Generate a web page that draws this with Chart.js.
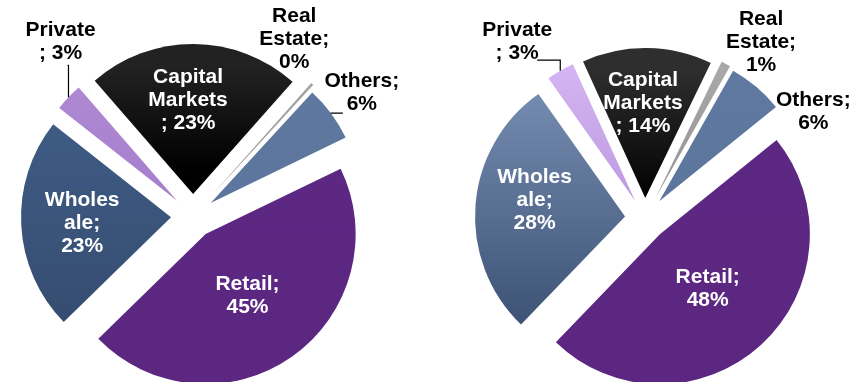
<!DOCTYPE html>
<html>
<head>
<meta charset="utf-8">
<script src="https://cdn.jsdelivr.net/npm/chart.js"></script>
<style>
  body { margin:0; background:#fff; overflow:hidden; width:868px; height:382px; }
  .wrap { position:absolute; top:0; width:434px; height:382px; }
</style>
</head>
<body>
<div class="wrap" style="left:0"><canvas id="pieLeft"></canvas></div>
<div class="wrap" style="left:434px"><canvas id="pieRight"></canvas></div>
<script>
// segments, clockwise from the top
var segments = ["Capital Markets", "Real Estate", "Others", "Retail", "Wholesale", "Private"];
var valuesLeft = [23, 0.3, 6, 45, 23, 3];
var valuesRight = [14, 1, 6, 48, 28, 3];
// how the label text wraps ("#" = the percentage)
var labelWrap = [["Capital", "Markets", "; #"], ["Real", "Estate;", "#"], ["Others;", "#"],
                 ["Retail;", "#"], ["Wholes", "ale;", "#"], ["Private", "; #"]];

var FONT = 'bold 21px "Liberation Sans", Arial, sans-serif';
var LINE_H = 23;

function makeColors(pairs) {
	return function(ctx) {
		var c = ctx.chart;
		var p = pairs[ctx.dataIndex];
		if (!c.chartArea) return p[0];
		var cy = (c.chartArea.top + c.chartArea.bottom) / 2;
		var g = c.ctx.createLinearGradient(0, cy - 150, 0, cy + 150);
		g.addColorStop(0, p[0]);
		g.addColorStop(p[2] || 1, p[1]);
		if (p[2]) g.addColorStop(1, p[1]);
		return g;
	};
}

// pull every slice out from the centre
var explodePlugin = {
	id: 'explode',
	afterDatasetsUpdate: function(chart, args, opts) {
		var meta = chart.getDatasetMeta(0);
		meta.data.forEach(function(arc, i) {
			var mid = (arc.startAngle + arc.endAngle) / 2;
			var d = opts.distance[i];
			arc.x += Math.cos(mid) * d;
			arc.y += Math.sin(mid) * d;
		});
	}
};

var labelPlugin = {
	id: 'sliceLabels',
	afterDatasetsDraw: function(chart, args, opts) {
		var ctx = chart.ctx;
		var ca = chart.chartArea;
		var cx = (ca.left + ca.right) / 2, cy = (ca.top + ca.bottom) / 2;
		var meta = chart.getDatasetMeta(0);
		var vals = chart.data.datasets[0].data;
		ctx.save();
		ctx.font = FONT;
		ctx.textAlign = 'center';
		ctx.textBaseline = 'alphabetic';
		meta.data.forEach(function(arc, i) {
			var pos = opts.pos[i];
			var a = (pos[0] - 90) * Math.PI / 180;
			var bx = cx + Math.cos(a) * pos[1];
			var by = cy + Math.sin(a) * pos[1];
			var lines = labelWrap[i].map(function(t) { return t.replace('#', Math.round(vals[i]) + '%'); });
			ctx.fillStyle = opts.color[i];
			lines.forEach(function(t, k) {
				ctx.fillText(t, bx, by + (k - (lines.length - 1) / 2) * LINE_H + 7.5);
			});
			var ld = opts.leader[i];
			if (ld) {
				var mid = (arc.startAngle + arc.endAngle) / 2;
				var ex = arc.x + Math.cos(mid) * arc.outerRadius;
				var ey = arc.y + Math.sin(mid) * arc.outerRadius;
				ctx.strokeStyle = '#000';
				ctx.lineWidth = 1.2;
				ctx.beginPath();
				ctx.moveTo(ex, ey);
				ctx.lineTo(ex, by + ld[1]);
				ctx.lineTo(bx + ld[0], by + ld[1]);
				ctx.stroke();
			}
		});
		ctx.restore();
	}
};

function makePie(id, values, rotation, colors, padding, distance, pos, leader) {
	return new Chart(document.getElementById(id), {
		type: 'pie',
		data: {
			labels: segments,
			datasets: [{
				data: values,
				backgroundColor: makeColors(colors),
				borderWidth: 0
			}]
		},
		options: {
			responsive: true,
			maintainAspectRatio: false,
			animation: false,
			rotation: rotation,
			radius: 150,
			layout: { padding: padding },
			plugins: {
				legend: { display: false },
				tooltip: { enabled: false },
				explode: { distance: distance },
				sliceLabels: {
					pos: pos,
					leader: leader,
					color: ['#fff', '#000', '#000', '#fff', '#fff', '#000']
				}
			}
		},
		plugins: [explodePlugin, labelPlugin]
	});
}

makePie('pieLeft', valuesLeft, -41,
	[['#222222', '#000000', 0.35], ['#a8a8a8', '#7a7a7a'], ['#5f79a0', '#56709a'],
	 ['#5d2883', '#5b2781'], ['#41608a', '#34496c'], ['#b08ad4', '#9a72c4']],
	{ left: 0, right: 48, top: 50, bottom: 0 },
	[22, 28, 22, 22, 22, 22],
	[[-2.4, 118], [29.6, 205], [53.5, 210], [145, 95], [267, 111], [323, 220]],
	[null, null, [-19, 22], null, null, [7, 25]]);

makePie('pieRight', valuesRight, -24.5,
	[['#2e2e2e', '#000000', 0.45], ['#a8a8a8', '#7a7a7a'], ['#5f79a0', '#56709a'],
	 ['#5d2883', '#5b2781'], ['#7a92b6', '#33486b'], ['#d4b4f2', '#a07acb']],
	{ left: 0, right: 12, top: 54, bottom: 0 },
	[20, 24, 22, 22, 20, 20],
	[[-1, 117], [33.2, 212], [57.3, 200], [137.6, 93], [279.8, 112], [324.3, 219]],
	[null, null, null, null, null, [20, 20]]);
</script>
</body>
</html>
